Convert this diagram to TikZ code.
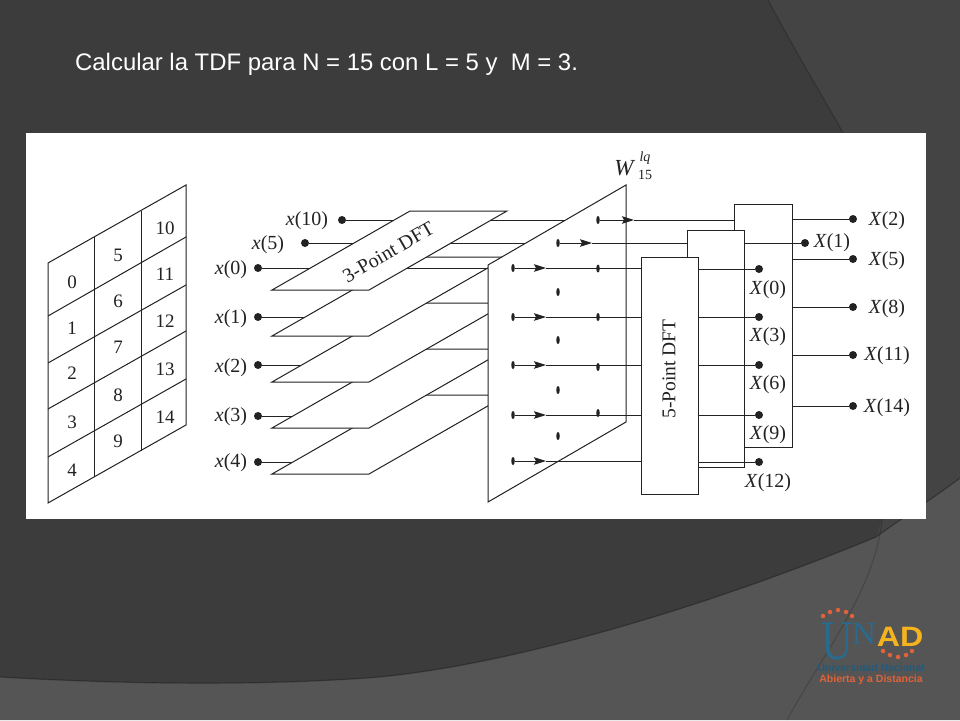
\documentclass[tikz,border=0pt]{standalone}
\usepackage{fontspec}
\setmainfont{Liberation Serif}
\newfontfamily\titlefont{Liberation Sans}
\usetikzlibrary{arrows.meta,shapes.geometric}
\definecolor{ink}{HTML}{222222}
\definecolor{bgmain}{HTML}{3C3C3C}
\definecolor{bgtop}{HTML}{444444}
\definecolor{bglow}{HTML}{555555}
\definecolor{logoblue}{HTML}{2A6A8C}
\definecolor{logogold}{HTML}{F5B31E}
\definecolor{logored}{HTML}{E0633A}
\newcommand{\fs}[1]{\fontsize{#1}{#1}\selectfont}
\tikzset{
  x=1pt,y=-1pt,
  wire/.style={draw=ink,line width=1pt},
  panel/.style={draw=ink,fill=white,line width=1pt,line join=miter},
  netdot/.style={circle,fill=ink,inner sep=0pt,minimum size=8pt},
  flat/.style={ellipse,fill=ink,inner sep=0pt,minimum width=3.5pt,minimum height=8pt},
  lab/.style={text=ink,inner sep=0pt,font=\fs{20},yshift=-1.5pt},
  cell/.style={text=ink,inner sep=0pt,font=\fs{19}},
  head/.style={wire,-{Stealth[length=12pt,width=7.5pt,inset=2pt]}},
  logodot/.style={circle,fill=logored,inner sep=0pt,minimum size=4.5pt},
}
\begin{document}
\begin{tikzpicture}
\useasboundingbox (0,0) rectangle (960,720);
% background
\fill[bgmain] (0,0) rectangle (960,720);
\fill[bgtop] (768,0) .. controls (800,60) and (825,100) .. (843,133) -- (882,519) -- (876,537) -- (960,478) -- (960,0) -- cycle;
\draw[black,opacity=.2,line width=1.2pt] (768,0) .. controls (800,60) and (825,100) .. (843,133);
\fill[bglow] (0,677) .. controls (120,684) and (250,686) .. (367,678)
  .. controls (500,668) and (700,610) .. (876,537) .. controls (905,516) and (935,497) .. (960,478)
  -- (960,720) -- (0,720) -- cycle;
\draw[black,opacity=.3,line width=1.2pt] (0,677) .. controls (120,684) and (250,686) .. (367,678)
  .. controls (500,668) and (700,610) .. (876,537) .. controls (905,516) and (935,497) .. (960,478);
\draw[black,opacity=.18,line width=1pt] (882,519) .. controls (875,590) and (825,650) .. (787,720);
\fill[white] (26,133) rectangle (926,519);
% title
\node[anchor=base west,text=white,inner sep=0pt,font=\titlefont\fs{23.9}] (title) at (75,70)
  {Calcular la TDF para N = 15 con L = 5 y\ \ M = 3.};
% grid
\draw[wire] (48,263) -- (186,185) -- (186,425) -- (48,503) -- cycle;
\draw[wire] (94,237) -- (94,477) (141,211) -- (141,451);
\draw[wire] (48,316) -- (186,237) (48,363) -- (186,285) (48,409) -- (186,331) (48,457) -- (186,379);
\foreach \t/\px/\py in {0/72/282,1/72/328,2/72/373,3/72/422,4/72/470,
    5/118/255,6/118/301,7/118/347,8/118/395,9/118/441,
    10/165/228,11/165/274,12/165/321,13/165/369,14/165/417}
  \node[cell] (g\t) at (\px,\py) {\t};
% input dots and labels
\node[netdot] (x10) at (342,220) {};
\node[netdot] (x5) at (305,243) {};
\node[netdot] (x0) at (258,268) {};
\node[netdot] (x1) at (258,317) {};
\node[netdot] (x2) at (258,365) {};
\node[netdot] (x3) at (258,416) {};
\node[netdot] (x4) at (258,462) {};
\node[lab] (lx10) at (307,219) {\textit{x}(10)};
\node[lab] (lx5) at (268,243) {\textit{x}(5)};
\foreach \n/\py in {0/268,1/317,2/366,3/415,4/461}
  \node[lab] (lx\n) at (231,\py) {\textit{x}(\n)};
% inputs of the lower planes end under their plane
\coordinate (e1) at (340,317); \coordinate (e2) at (340,365);
\coordinate (e3) at (340,416); \coordinate (e4) at (340,462);
\draw[wire] (x1) -- (e1); \draw[wire] (x2) -- (e2); \draw[wire] (x3) -- (e3); \draw[wire] (x4) -- (e4);
% planes, back to front
\foreach \dy in {184,138,92,46}
  \draw[panel] (272,290+\dy) -- (369,290+\dy) -- (507,211+\dy) -- (410,211+\dy) -- cycle;
\coordinate (w10) at (575,220); \coordinate (w5) at (535,243); \coordinate (w0) at (500,268);
\draw[wire] (x10) -- (w10); \draw[wire] (x5) -- (w5); \draw[wire] (x0) -- (w0);
\draw[panel] (272,290) -- (369,290) -- (507,211) -- (410,211) -- cycle;
\node[text=ink,inner sep=0pt,font=\fs{20},rotate=30] (p1) at (388.5,252) {3-Point DFT};
% twiddle panel
\draw[panel] (488,265) -- (626,185) -- (626,422) -- (488,502) -- cycle;
\node[text=ink,inner sep=0pt,font=\fs{23}\itshape] (wl) at (624,168) {W};
\node[text=ink,inner sep=0pt,font=\fs{14}\itshape] (wlq) at (645,158) {lq};
\node[text=ink,inner sep=0pt,font=\fs{14}] (w15) at (645,175) {15};
% boxes
\node[flat] (a0) at (513,268) {}; \node[flat] (a1) at (513,317) {};
\node[flat] (a2) at (513,365) {}; \node[flat] (a3) at (513,415) {};
\node[flat] (a4) at (513,461) {};
\node[flat] (b5) at (558,243) {}; \node[flat] (b6) at (558,292) {};
\node[flat] (b7) at (558,340) {}; \node[flat] (b8) at (558,390) {};
\node[flat] (b9) at (558,436) {};
\node[flat] (c10) at (598,220) {}; \node[flat] (c11) at (598,268.5) {};
\node[flat] (c12) at (598,317) {}; \node[flat] (c13) at (598,367) {};
\node[flat] (c14) at (598,413) {};
\fill[white] (734,204) rectangle (792,447);
\draw[panel,fill=none] (734,230) -- (734,204) -- (792,204) -- (792,447) -- (744,447);
\fill[white] (687,230) rectangle (744,467);
\draw[panel,fill=none] (687,257) -- (687,230) -- (744,230) -- (744,467) -- (698,467);
\node[panel,minimum width=57pt,minimum height=237pt,inner sep=0pt,anchor=north west] (f5) at (641,257) {};
\node[text=ink,inner sep=0pt,font=\fs{19.5},rotate=90] (f5t) at (669,369) {5-Point DFT};
% flow through the twiddle panel
\coordinate (tip10) at (634,220); \coordinate (tip5) at (592,243);
\coordinate (tip0) at (546,268); \coordinate (tip1) at (546,317);
\coordinate (tip2) at (546,365); \coordinate (tip3) at (546,415);
\coordinate (tip4) at (546,461);
\coordinate (in10) at (734,220); \coordinate (in5) at (687,243);
\coordinate (in0) at (641,268); \coordinate (in1) at (641,317);
\coordinate (in2) at (641,365); \coordinate (in3) at (641,415);
\coordinate (in4) at (641,461);
\draw[wire] (tip10) -- (in10); \draw[wire] (tip5) -- (in5);
\draw[wire] (tip0) -- (in0); \draw[wire] (tip1) -- (in1); \draw[wire] (tip2) -- (in2);
\draw[wire] (tip3) -- (in3); \draw[wire] (tip4) -- (in4);
\draw[head] (c10) -- (tip10); \draw[head] (b5) -- (tip5);
\draw[head] (a0) -- (tip0); \draw[head] (a1) -- (tip1); \draw[head] (a2) -- (tip2);
\draw[head] (a3) -- (tip3); \draw[head] (a4) -- (tip4);
% outputs
\node[netdot] (o0) at (759,269) {}; \node[netdot] (o3) at (759,317) {};
\node[netdot] (o6) at (759,365) {}; \node[netdot] (o9) at (759,415) {};
\node[netdot] (o12) at (759,462) {};
\node[netdot] (o1) at (805,243) {};
\node[netdot] (o2) at (853,219) {}; \node[netdot] (o5) at (853,259) {};
\node[netdot] (o8) at (853,307) {}; \node[netdot] (o11) at (853,355) {};
\node[netdot] (o14) at (853,406) {};
\coordinate (s0) at (698,269); \coordinate (s3) at (698,317); \coordinate (s6) at (698,365);
\coordinate (s9) at (698,415); \coordinate (s12) at (698,462); \coordinate (s1) at (744,243);
\coordinate (s2) at (792,219); \coordinate (s5) at (792,259); \coordinate (s8) at (792,307);
\coordinate (s11) at (792,355); \coordinate (s14) at (792,406);
\foreach \n in {0,1,2,3,5,6,8,9,11,12,14} \draw[wire] (s\n) -- (o\n);
\node[lab] (l0) at (768,288) {\textit{X}(0)};
\node[lab] (l3) at (768,335) {\textit{X}(3)};
\node[lab] (l6) at (768,383) {\textit{X}(6)};
\node[lab] (l9) at (768,433) {\textit{X}(9)};
\node[lab] (l12) at (768,481) {\textit{X}(12)};
\node[lab] (l1) at (832,241) {\textit{X}(1)};
\node[lab] (l2) at (887,219) {\textit{X}(2)};
\node[lab] (l5) at (887,259) {\textit{X}(5)};
\node[lab] (l8) at (887,307) {\textit{X}(8)};
\node[lab] (l11) at (887,354) {\textit{X}(11)};
\node[lab] (l14) at (887,406) {\textit{X}(14)};
% logo
\foreach \px/\py [count=\i] in {823/616,830/612,838/610,846/612,852/616,883/651,890/655,898/657,906/655,912/651}
  \node[logodot] (ld\i) at (\px,\py) {};
\node[text=logoblue,inner sep=0pt,xscale=.78,font=\fs{56}] (lu) at (837,641.5) {U};
\node[text=logoblue,inner sep=0pt,xscale=1.05,font=\fs{32}] (ln) at (864,634) {N};
\node[text=logogold,inner sep=0pt,xscale=1.15,font=\titlefont\bfseries\fs{28}] (lad) at (900,637) {AD};
\node[text=logoblue!85!black,inner sep=0pt,font=\titlefont\bfseries\fs{10.5}] (lt1) at (871,668) {Universidad Nacional};
\node[text=logored,inner sep=0pt,font=\titlefont\bfseries\fs{10.5}] (lt2) at (871,680) {Abierta y a Distancia};
\end{tikzpicture}
\end{document}
